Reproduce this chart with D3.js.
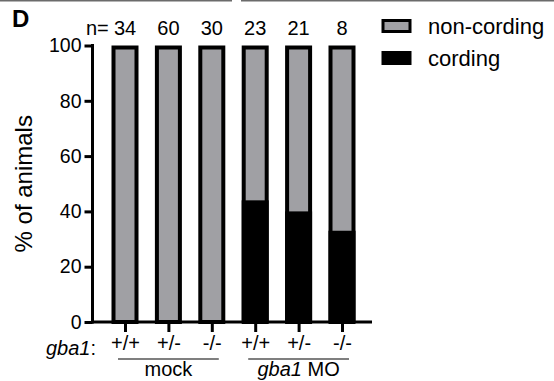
<!DOCTYPE html>
<html>
<head>
<meta charset="utf-8">
<script src="https://cdn.jsdelivr.net/npm/d3@7"></script>
<style>
  body { margin: 0; background: #fff; }
  svg { display: block; font-family: "Liberation Sans", Arial, sans-serif; }
</style>
</head>
<body>
<div class="box"></div>
<script>
// DATA
const genotypes = ["+/+", "+/-", "-/-", "+/+", "+/-", "-/-"];
const nAnimals = [34, 60, 30, 23, 21, 8];
const cording = [0, 0, 0, 44, 40, 33];     // % cording per group
const groups = ["mock", "gba1 MO"];
const groupOf = [0, 0, 0, 1, 1, 1];
const yTicks = [0, 20, 40, 60, 80, 100];
const legendItems = ["non-cording", "cording"];

const w = 554, h = 381;
const grey = "#a0a0a4";

const svg = d3.select(".box").append("svg")
    .attr("width", w)
    .attr("height", h);

// thin frame lines on top, from the neighbouring panels
svg.append("line").attr("x1", 0).attr("x2", 232).attr("y1", 0.5).attr("y2", 0.5)
    .attr("stroke", "#6b6b6b").attr("stroke-width", 2);
svg.append("line").attr("x1", 241).attr("x2", w).attr("y1", 0.5).attr("y2", 0.5)
    .attr("stroke", "#6b6b6b").attr("stroke-width", 2);

// panel letter
svg.append("text").attr("x", 12).attr("y", 27)
    .style("font-size", "24px").style("font-weight", "bold")
    .text("D");

// SCALES
const yScale = d3.scaleLinear().domain([0, 100]).range([322, 45.5]);
const xScale = d3.scalePoint().domain(d3.range(genotypes.length)).range([125, 342]);
const axisLeft = 92.5, axisRight = 372;
const barW = 23, sw = 4;

// BARS (grey, black outline)
const bars = svg.append("g");
bars.selectAll("rect.nc")
    .data(genotypes)
    .enter()
    .append("rect")
    .attr("class", "nc")
    .attr("x", (d, i) => xScale(i) - barW / 2)
    .attr("y", yScale(100) + sw / 2)
    .attr("width", barW)
    .attr("height", yScale(0) - yScale(100) - sw / 2)
    .attr("fill", grey)
    .attr("stroke", "#000")
    .attr("stroke-width", sw);

// cording part, solid black
bars.selectAll("rect.c")
    .data(cording)
    .enter()
    .append("rect")
    .attr("class", "c")
    .attr("x", (d, i) => xScale(i) - barW / 2 - sw / 2)
    .attr("y", d => yScale(d))
    .attr("width", barW + sw)
    .attr("height", d => yScale(0) - yScale(d))
    .attr("fill", "#000");

// Y AXIS
const yAxis = d3.axisLeft(yScale).tickValues(yTicks).tickSize(8).tickPadding(3);
const gy = svg.append("g")
    .attr("transform", "translate(" + axisLeft + ",0)")
    .call(yAxis);
gy.select(".domain").remove();
gy.selectAll(".tick line").attr("stroke-width", 3);
gy.selectAll(".tick text")
    .style("font-size", "19.5px")
    .style("font-family", "Liberation Sans, Arial, sans-serif")
    .attr("fill", "#000");
svg.append("line")
    .attr("x1", axisLeft).attr("x2", axisLeft)
    .attr("y1", yScale(100) - 1.5).attr("y2", yScale(0) + 1.5)
    .attr("stroke", "#000").attr("stroke-width", 3);

// X AXIS
const xAxis = d3.axisBottom(xScale).tickSize(10).tickFormat(i => genotypes[i]).tickPadding(4);
const gx = svg.append("g")
    .attr("transform", "translate(0," + yScale(0) + ")")
    .call(xAxis);
gx.select(".domain").remove();
gx.selectAll(".tick line").attr("stroke-width", 3);
gx.selectAll(".tick text")
    .style("font-size", "20px")
    .style("font-family", "Liberation Sans, Arial, sans-serif")
    .attr("fill", "#000");
svg.append("line")
    .attr("x1", axisLeft - 1.5).attr("x2", axisRight)
    .attr("y1", yScale(0)).attr("y2", yScale(0))
    .attr("stroke", "#000").attr("stroke-width", 3);

// gba1: label
svg.append("text")
    .attr("x", 96).attr("y", 355)
    .attr("text-anchor", "end")
    .style("font-size", "20px")
    .html('<tspan font-style="italic">gba1</tspan>:');

// group underlines and labels
groups.forEach(function(g, gi) {
    const idx = d3.range(genotypes.length).filter(i => groupOf[i] === gi);
    const x0 = xScale(idx[0]) - 7, x1 = xScale(idx[idx.length - 1]) + 7;
    svg.append("line")
        .attr("x1", x0).attr("x2", x1)
        .attr("y1", 359).attr("y2", 359)
        .attr("stroke", "#000").attr("stroke-width", 1.2);
    const t = svg.append("text")
        .attr("x", (x0 + x1) / 2).attr("y", 376)
        .attr("text-anchor", "middle")
        .style("font-size", "20px");
    if (g === "gba1 MO") {
        t.append("tspan").attr("font-style", "italic").text("gba1");
        t.append("tspan").text(" MO");
    } else {
        t.text(g);
    }
});

// n = labels
svg.append("text")
    .attr("x", 86).attr("y", 35)
    .style("font-size", "20px")
    .text("n=");
svg.selectAll("text.n")
    .data(nAnimals)
    .enter()
    .append("text")
    .attr("class", "n")
    .attr("x", (d, i) => xScale(i))
    .attr("y", 35)
    .attr("text-anchor", "middle")
    .style("font-size", "20px")
    .text(d => d);

// Y AXIS NAME
svg.append("text")
    .attr("transform", "rotate(-90)")
    .attr("x", -(yScale(0) + yScale(100)) / 2)
    .attr("y", 32)
    .attr("text-anchor", "middle")
    .style("font-size", "24px")
    .text("% of animals");

// LEGEND
const legend = svg.append("g");
legend.selectAll("rect")
    .data(legendItems)
    .enter()
    .append("rect")
    .attr("x", 383)
    .attr("y", (d, i) => 20.5 + i * 32)
    .attr("width", 27)
    .attr("height", 11)
    .attr("fill", (d, i) => i === 0 ? grey : "#000")
    .attr("stroke", "#000")
    .attr("stroke-width", 3);
legend.selectAll("text")
    .data(legendItems)
    .enter()
    .append("text")
    .attr("x", 428)
    .attr("y", (d, i) => 34 + i * 32)
    .style("font-size", "22px")
    .text(d => d);
</script>
</body>
</html>
